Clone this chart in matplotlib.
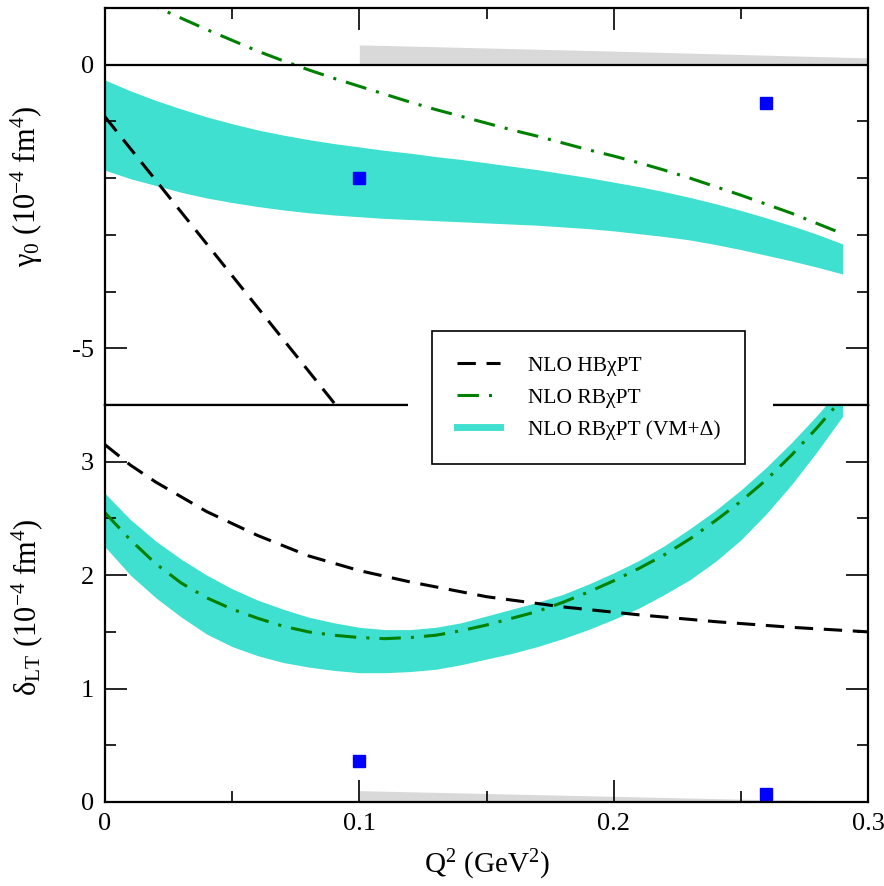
import matplotlib as mat
mat.use('Agg')
import matplotlib.pyplot as plt
from matplotlib.patches import Rectangle
from matplotlib.lines import Line2D
from matplotlib.ticker import MultipleLocator, FixedLocator

plt.rcParams['font.family'] = ['Liberation Serif', 'DejaVu Serif']
plt.rcParams['mathtext.fontset'] = 'custom'
plt.rcParams['mathtext.rm'] = 'Liberation Serif'
plt.rcParams['mathtext.default'] = 'rm'
plt.rcParams['axes.unicode_minus'] = False

# ---- gamma_0 panel (top) ----
q_hb_g = [0.0, 0.02, 0.04, 0.06, 0.08, 0.10]
hb_g = [-0.92, -2.04, -3.16, -4.28, -5.40, -6.52]

q_g = [0.0, 0.01, 0.02, 0.03, 0.04, 0.05, 0.06, 0.07, 0.08, 0.09, 0.10,
       0.11, 0.12, 0.13, 0.14, 0.15, 0.16, 0.17, 0.18, 0.19, 0.20,
       0.21, 0.22, 0.23, 0.24, 0.25, 0.26, 0.27, 0.28, 0.29]
rb_g = [1.45, 1.23, 1.02, 0.82, 0.62, 0.43, 0.24, 0.07, -0.09, -0.24, -0.38,
        -0.52, -0.66, -0.79, -0.91, -1.03, -1.15, -1.26, -1.38, -1.50, -1.61,
        -1.73, -1.86, -2.00, -2.15, -2.30, -2.46, -2.62, -2.80, -2.98]
band_g_hi = [-0.27, -0.46, -0.63, -0.78, -0.92, -1.04, -1.15, -1.24, -1.32, -1.39, -1.45,
             -1.51, -1.56, -1.62, -1.67, -1.73, -1.79, -1.85, -1.92, -1.99, -2.07,
             -2.15, -2.24, -2.34, -2.45, -2.57, -2.70, -2.84, -2.99, -3.16]
band_g_lo = [-1.86, -2.01, -2.13, -2.25, -2.35, -2.43, -2.50, -2.56, -2.61, -2.65, -2.68,
             -2.71, -2.73, -2.75, -2.77, -2.79, -2.81, -2.83, -2.86, -2.89, -2.93,
             -2.98, -3.03, -3.09, -3.17, -3.26, -3.36, -3.46, -3.57, -3.69]

q_sys_g = [0.1, 0.2, 0.3]
sys_g = [0.35, 0.24, 0.12]

q_dat = [0.1, 0.26]
dat_g = [-2.0, -0.67]

# ---- delta_LT panel (bottom) ----
q_hb_d = [0.0, 0.01, 0.02, 0.04, 0.06, 0.08, 0.10, 0.12, 0.15, 0.18, 0.21, 0.24, 0.27, 0.30]
hb_d = [3.15, 2.97, 2.82, 2.56, 2.35, 2.17, 2.04, 1.94, 1.81, 1.72, 1.65, 1.59, 1.54, 1.50]

q_d = q_g
rb_d = [2.55, 2.31, 2.10, 1.93, 1.80, 1.70, 1.62, 1.55, 1.50, 1.47, 1.45,
        1.44, 1.45, 1.47, 1.51, 1.56, 1.62, 1.68, 1.76, 1.85, 1.95,
        2.06, 2.18, 2.32, 2.48, 2.65, 2.84, 3.06, 3.30, 3.56]
band_d_hi = [2.72, 2.49, 2.30, 2.14, 2.00, 1.88, 1.78, 1.70, 1.63, 1.58, 1.54,
             1.52, 1.52, 1.54, 1.58, 1.64, 1.70, 1.76, 1.83, 1.92, 2.02,
             2.13, 2.26, 2.41, 2.57, 2.75, 2.95, 3.17, 3.41, 3.67]
band_d_lo = [2.25, 2.00, 1.80, 1.63, 1.48, 1.37, 1.29, 1.23, 1.19, 1.16, 1.14,
             1.14, 1.15, 1.17, 1.21, 1.26, 1.31, 1.37, 1.44, 1.52, 1.61,
             1.71, 1.83, 1.96, 2.12, 2.31, 2.54, 2.80, 3.09, 3.40]

q_sys_d = [0.1, 0.15, 0.2, 0.25, 0.3]
sys_d = [0.10, 0.075, 0.05, 0.025, 0.005]

dat_d = [0.36, 0.07]
err_d = [0.05, 0.0]

labels = ["NLO HB\u03c7PT", "NLO RB\u03c7PT", "NLO RB\u03c7PT (VM+\u0394)"]

band_col = '#40E0D0'
green = '#008000'
dash = (0, (6, 3.5))
dashdot = (0, (7, 3.3, 1, 3.3))

fig = plt.figure(figsize=(8.84, 8.86), dpi=100)
left, width = 105 / 884, 763 / 884
ax1 = fig.add_axes([left, 1 - 405 / 886, width, 397 / 886])
ax2 = fig.add_axes([left, 1 - 802 / 886, width, 397 / 886])

ax1.fill_between(q_sys_g, 0, sys_g, color='#d9d9d9', lw=0)
ax1.fill_between(q_g, band_g_lo, band_g_hi, color=band_col, lw=0)
ax1.plot(q_hb_g, hb_g, color='black', lw=2.2, ls=dash)
ax1.plot(q_g, rb_g, color=green, lw=2.2, ls=dashdot)
ax1.plot(q_dat, dat_g, 's', color='blue', ms=9)
ax1.axhline(0, color='black', lw=1.6)
ax1.set_xlim(0, 0.3)
ax1.set_ylim(-6, 1)

ax2.fill_between(q_sys_d, 0, sys_d, color='#d9d9d9', lw=0)
ax2.fill_between(q_d, band_d_lo, band_d_hi, color=band_col, lw=0)
ax2.plot(q_hb_d, hb_d, color='black', lw=2.2, ls=dash)
ax2.plot(q_d, rb_d, color=green, lw=2.2, ls=dashdot)
ax2.errorbar(q_dat, dat_d, yerr=err_d, fmt='s', color='blue', ms=9, elinewidth=1.5, capsize=0)
ax2.set_xlim(0, 0.3)
ax2.set_ylim(0, 3.5)

for ax in (ax1, ax2):
    for s in ax.spines.values():
        s.set_linewidth(1.6)
    ax.xaxis.set_major_locator(FixedLocator([0, 0.1, 0.2, 0.3]))
    ax.xaxis.set_minor_locator(MultipleLocator(0.05))
    ax.tick_params(which='major', direction='in', length=16, width=1.2, labelsize=19, pad=8)
    ax.tick_params(which='minor', direction='in', length=8, width=1.2)

ax1.yaxis.set_major_locator(FixedLocator([-5, 0]))
ax1.yaxis.set_minor_locator(MultipleLocator(1))
ax1.tick_params(which='both', top=True, bottom=False, right=True, labelbottom=False)
ax1.set_yticklabels(['-5', '0'])

ax2.yaxis.set_major_locator(MultipleLocator(1))
ax2.yaxis.set_minor_locator(MultipleLocator(0.5))
ax2.tick_params(which='both', top=False, bottom=True, right=True)
ax2.set_xticklabels(['0', '0.1', '0.2', '0.3'])

ax1.set_ylabel('\u03b3$_0$ (10$^{-4}$ fm$^4$)', fontsize=22)
ax1.yaxis.set_label_coords(-0.078, 0.55)
ax2.set_ylabel('\u03b4$_{LT}$ (10$^{-4}$ fm$^4$)', fontsize=22)
ax2.yaxis.set_label_coords(-0.078, 0.49)
ax2.set_xlabel('Q$^2$ (GeV$^2$)', fontsize=21)
ax2.xaxis.set_label_coords(0.5, -0.115)

# white strip hiding the panel boundary around the legend
fig.patches.append(Rectangle((408 / 884, 1 - 413 / 886), 365 / 884, 16 / 886,
                             transform=fig.transFigure, facecolor='white',
                             edgecolor='none', zorder=2))

handles = [Line2D([], [], color='black', lw=2.2, ls=dash),
           Line2D([], [], color=green, lw=2.2, ls=dashdot),
           Line2D([], [], color=band_col, lw=5)]
leg = fig.legend(handles, labels, loc='upper left',
                 bbox_to_anchor=(432 / 884, 1 - 331 / 886), fontsize=15.5,
                 frameon=True, fancybox=False, edgecolor='black', framealpha=1,
                 handlelength=2.0, handletextpad=1.3, labelspacing=0.55,
                 borderpad=1.15, borderaxespad=0)
leg.get_frame().set_linewidth(1.2)
leg.set_zorder(3)

fig.savefig('out.png', dpi=100)
